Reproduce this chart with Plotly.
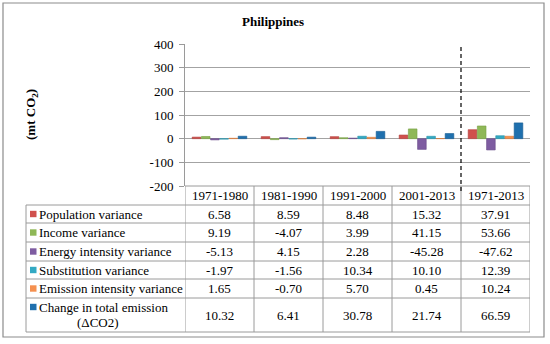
import plotly.graph_objects as go

categories = ["1971-1980", "1981-1990", "1991-2000", "2001-2013", "1971-2013"]
series_names = ["Population variance", "Income variance", "Energy intensity variance",
                "Substitution variance", "Emission intensity variance",
                "Change in total emission (ΔCO2)"]
population = [6.58, 8.59, 8.48, 15.32, 37.91]
income = [9.19, -4.07, 3.99, 41.15, 53.66]
energy_intensity = [-5.13, 4.15, 2.28, -45.28, -47.62]
substitution = [-1.97, -1.56, 10.34, 10.10, 12.39]
emission_intensity = [1.65, -0.70, 5.70, 0.45, 10.24]
change_total = [10.32, 6.41, 30.78, 21.74, 66.59]
value_labels = [
    ["6.58", "8.59", "8.48", "15.32", "37.91"],
    ["9.19", "-4.07", "3.99", "41.15", "53.66"],
    ["-5.13", "4.15", "2.28", "-45.28", "-47.62"],
    ["-1.97", "-1.56", "10.34", "10.10", "12.39"],
    ["1.65", "-0.70", "5.70", "0.45", "10.24"],
    ["10.32", "6.41", "30.78", "21.74", "66.59"],
]
y_ticks = [-200, -100, 0, 100, 200, 300, 400]
y_tick_labels = ["-200", "-100", "0", "100", "200", "300", "400"]

series = [population, income, energy_intensity, substitution, emission_intensity, change_total]
colors = ["#D0504C", "#8FB857", "#7E5CA1", "#32A9C3", "#F5904F", "#1F70AE"]
edges = ["#B2403D", "#76A043", "#674A88", "#2690A8", "#D97838", "#185C92"]

W, H = 550, 344
L, R, T, B = 185, 530, 44, 186
PW, PH = R - L, B - T

def px(x):
    return (x - L) / PW

def py(y):
    return (B - y) / PH

FONT = "Liberation Serif, Times New Roman, serif"
FS = 13
GRID = "#A3A3A3"
LINE = "#9A9A9A"

fig = go.Figure()
for name, vals, c, e in zip(series_names, series, colors, edges):
    fig.add_trace(go.Bar(x=categories, y=vals, name=name, marker=dict(color=c, line=dict(color=e, width=0.6))))

shapes = []
annotations = []

# outer border
shapes.append(dict(type="rect", xref="paper", yref="paper", x0=px(3), x1=px(544), y0=py(337), y1=py(3),
                   line=dict(color="#8C8C8C", width=1.2), layer="below"))

# table geometry
row_edges = [205, 223, 242, 261, 279, 298, 332]
shapes.append(dict(type="line", xref="paper", yref="paper", x0=0, x1=1, y0=0, y1=0, line=dict(color=LINE, width=1)))
for yy in row_edges:
    shapes.append(dict(type="line", xref="paper", yref="paper", x0=px(26), x1=1, y0=py(yy), y1=py(yy),
                       line=dict(color=LINE, width=1)))
for i in range(len(categories) + 1):
    shapes.append(dict(type="line", xref="x", yref="paper", x0=i - 0.5, x1=i - 0.5, y0=0, y1=py(332),
                       line=dict(color=LINE, width=1)))
shapes.append(dict(type="line", xref="paper", yref="paper", x0=px(26), x1=px(26), y0=py(205), y1=py(332),
                   line=dict(color=LINE, width=1)))
# dashed separator
shapes.append(dict(type="line", xref="x", yref="paper", x0=3.5, x1=3.5, y0=py(191), y1=1,
                   line=dict(color="#000000", width=1.2, dash="4px,3px")))

for cat in categories:
    annotations.append(dict(x=cat, y=py(195.5), xref="x", yref="paper", text=cat, showarrow=False,
                            font=dict(family=FONT, size=FS, color="#000"), xanchor="center", yanchor="middle"))

for r, (name, c) in enumerate(zip(series_names, colors)):
    top, bot = row_edges[r], row_edges[r + 1]
    mid = (top + bot) / 2
    if r < 5:
        shapes.append(dict(type="rect", xref="paper", yref="paper", x0=px(30), x1=px(36.5),
                           y0=py(mid + 3.2), y1=py(mid - 3.2), line=dict(width=0), fillcolor=c))
        annotations.append(dict(x=px(37), y=py(mid), xref="paper", yref="paper", text=name, showarrow=False,
                                font=dict(family=FONT, size=FS, color="#000"), xanchor="left", yanchor="middle"))
    else:
        l1 = top + 9
        shapes.append(dict(type="rect", xref="paper", yref="paper", x0=px(30), x1=px(36.5),
                           y0=py(l1 + 3.2), y1=py(l1 - 3.2), line=dict(width=0), fillcolor=c))
        annotations.append(dict(x=px(37), y=py(l1), xref="paper", yref="paper", text="Change in total emission",
                                showarrow=False, font=dict(family=FONT, size=FS, color="#000"),
                                xanchor="left", yanchor="middle"))
        annotations.append(dict(x=px(98), y=py(l1 + 15.5), xref="paper", yref="paper", text="(ΔCO2)",
                                showarrow=False, font=dict(family=FONT, size=FS, color="#000"),
                                xanchor="center", yanchor="middle"))
    for j, cat in enumerate(categories):
        annotations.append(dict(x=cat, y=py(mid), xref="x", yref="paper", text=value_labels[r][j],
                                showarrow=False, font=dict(family=FONT, size=FS, color="#000"),
                                xanchor="center", yanchor="middle"))

annotations.append(dict(x=px(273), y=py(22), xref="paper", yref="paper", text="<b>Philippines</b>",
                        showarrow=False, font=dict(family=FONT, size=FS, color="#000"),
                        xanchor="center", yanchor="middle"))
annotations.append(dict(x=px(31), y=py(115), xref="paper", yref="paper", text="<b>(mt CO<sub>2</sub>)</b>",
                        showarrow=False, textangle=-90, font=dict(family=FONT, size=FS, color="#000"),
                        xanchor="center", yanchor="middle"))

fig.update_layout(
    width=W, height=H,
    margin=dict(l=L, r=W - R, t=T, b=H - B, pad=0),
    paper_bgcolor="#FFFFFF", plot_bgcolor="#FFFFFF",
    barmode="group", bargap=0.2, bargroupgap=0.06,
    showlegend=False,
    shapes=shapes, annotations=annotations,
    font=dict(family=FONT, size=FS, color="#000"),
)
fig.update_xaxes(type="category", categoryorder="array", categoryarray=categories,
                 range=[-0.5, len(categories) - 0.5], showticklabels=False, showgrid=False,
                 zeroline=False, showline=False, ticks="")
fig.update_yaxes(range=[-200, 400], tickvals=y_ticks, ticktext=y_tick_labels,
                 showgrid=True, gridcolor=GRID, gridwidth=1.2,
                 zeroline=True, zerolinecolor=GRID, zerolinewidth=1.2,
                 showline=True, linecolor=LINE, linewidth=1, ticks="outside", ticklen=5, tickcolor=LINE,
                 ticklabelstandoff=3, tickfont=dict(family=FONT, size=13, color="#000"))

fig.write_html("out.html", config={"displayModeBar": False},
               post_script="document.body.style.margin='0';document.body.style.padding='0';document.body.style.overflow='hidden';")
